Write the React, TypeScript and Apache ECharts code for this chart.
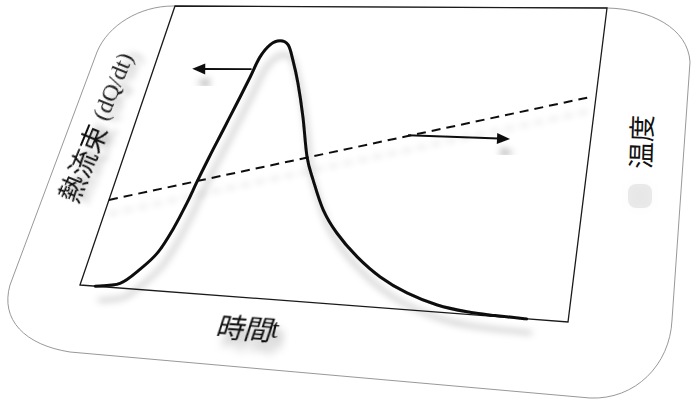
import React, { useEffect, useRef } from "react";
import * as echarts from "echarts";

// ---- data (time in % of run, heat flow / temperature in % of axis) ----
const heatTime = [3.5, 8.8, 12.3, 15.0, 16.8, 18.1, 18.9, 20.0, 21.3, 22.7, 24.0, 24.9, 26.5, 28.6, 30.8, 32.9, 35.5, 38.7, 41.9, 44.5, 48.2, 52.2, 57.5, 63.0, 68.9, 75.2, 81.1, 86.5, 92.4];
const heatFlow = [0, 1.4, 6.3, 11.8, 19.6, 28.2, 35.3, 44.0, 53.2, 63.2, 72.8, 80.2, 85.0, 86.6, 85.1, 79.4, 71.0, 58.9, 45.3, 37.7, 28.3, 21.3, 14.4, 8.9, 4.8, 2.0, 0.7, 0.25, 0];
const tempTime = [0, 99];
const temperature = [27.8, 68.6];
const heatArrowTime = [23.8, 9.5];
const heatArrowValue = [75.7, 75.4];
const tempArrowTime = [62.6, 83.9];
const tempArrowValue = [53.9, 53.8];
const AXIS_MIN = 0;
const AXIS_MAX = 100;

// ---- perspective of the plotting plane (pixel corners) ----
const Q0 = [80, 285]; // bottom-left
const Q1 = [568, 322]; // bottom-right
const Q2 = [607, 8]; // top-right
const Q3 = [175, 6]; // top-left

function makeHomography() {
  const [x0, y0] = Q0, [x1, y1] = Q1, [x2, y2] = Q2, [x3, y3] = Q3;
  const dx1 = x1 - x2, dx2 = x3 - x2, dx3 = x0 - x1 + x2 - x3;
  const dy1 = y1 - y2, dy2 = y3 - y2, dy3 = y0 - y1 + y2 - y3;
  const den = dx1 * dy2 - dx2 * dy1;
  const g = (dx3 * dy2 - dx2 * dy3) / den;
  const h = (dx1 * dy3 - dx3 * dy1) / den;
  const a = x1 - x0 + g * x1, b = x3 - x0 + h * x3, c = x0;
  const d = y1 - y0 + g * y1, e = y3 - y0 + h * y3, f = y0;
  return (u: number, v: number) => {
    const w = g * u + h * v + 1;
    return [(a * u + b * v + c) / w, (d * u + e * v + f) / w];
  };
}
const H = makeHomography();

function project(p: number[], cs: any) {
  const u = (p[0] - cs.x) / cs.width;
  const v = (cs.y + cs.height - p[1]) / cs.height;
  return H(u, v);
}

// Catmull-Rom curve through projected points, as SVG path data
function smoothPath(pts: number[][]) {
  const f = (n: number) => n.toFixed(2);
  let d = `M${f(pts[0][0])} ${f(pts[0][1])}`;
  for (let i = 0; i < pts.length - 1; i++) {
    const p0 = pts[Math.max(0, i - 1)], p1 = pts[i], p2 = pts[i + 1], p3 = pts[Math.min(pts.length - 1, i + 2)];
    const c1 = [p1[0] + (p2[0] - p0[0]) / 6, p1[1] + (p2[1] - p0[1]) / 6];
    const c2 = [p2[0] - (p3[0] - p1[0]) / 6, p2[1] - (p3[1] - p1[1]) / 6];
    d += ` C${f(c1[0])} ${f(c1[1])} ${f(c2[0])} ${f(c2[1])} ${f(p2[0])} ${f(p2[1])}`;
  }
  return d;
}

function arrowShapes(tail: number[], tip: number[], style: any) {
  const dx = tip[0] - tail[0], dy = tip[1] - tail[1];
  const len = Math.sqrt(dx * dx + dy * dy);
  const ux = dx / len, uy = dy / len;
  const nx = -uy, ny = ux;
  const hl = 13, hw = 5.5;
  const bx = tip[0] - ux * hl, by = tip[1] - uy * hl;
  return [
    { type: "line", shape: { x1: tail[0], y1: tail[1], x2: bx + ux * 2, y2: by + uy * 2 }, style: { stroke: "#111", lineWidth: 2, ...style } },
    { type: "polygon", shape: { points: [tip, [bx + nx * hw, by + ny * hw], [bx - nx * hw, by - ny * hw]] }, style: { fill: "#111", ...style } },
  ];
}

const shadow = { shadowColor: "rgba(0,0,0,0.28)", shadowBlur: 7, shadowOffsetX: 4, shadowOffsetY: 14 };
const lightShadow = { shadowColor: "rgba(0,0,0,0.16)", shadowBlur: 6, shadowOffsetX: 0, shadowOffsetY: 14 };

const cardPath =
  "M173 6 L607 8 C650 9 688 28 690 62 L672 320 C670 365 635 400 590 398 L70 352 C25 345 0 320 10 285 L97 52 C108 25 140 6 173 6 Z";

export default function App() {
  const ref = useRef<HTMLDivElement>(null);
  useEffect(() => {
    document.body.style.margin = "0";
    try {
      echarts.graphic.registerShape("card", echarts.graphic.extendPath(cardPath, {}));
    } catch (e) {}
    const chart = echarts.init(ref.current!, null, { renderer: "svg" });
    chart.setOption({
      animation: false,
      backgroundColor: "#ffffff",
      grid: { left: 80, top: 6, width: 527, height: 279 },
      xAxis: { type: "value", min: AXIS_MIN, max: AXIS_MAX, show: false },
      yAxis: [
        { type: "value", min: AXIS_MIN, max: AXIS_MAX, show: false },
        { type: "value", min: AXIS_MIN, max: AXIS_MAX, show: false },
      ],
      graphic: [
        { type: "card", x: 0, y: 0, z: -10, style: { fill: "none", stroke: "#8c8c8c", lineWidth: 0.9 } },
        {
          type: "rect", shape: { x: 628, y: 184, width: 24, height: 24, r: 8 }, z: -5,
          style: { fill: "rgba(0,0,0,0.08)", shadowColor: "rgba(0,0,0,0.22)", shadowBlur: 14 },
        },
        {
          type: "text", x: 96, y: 127, rotation: 1.18,
          style: {
            text: "{a|熱流束}  {b|(dQ/dt)}",
            align: "center", verticalAlign: "middle",
            textShadowColor: "rgba(0,0,0,0.3)", textShadowBlur: 6, textShadowOffsetX: 4, textShadowOffsetY: 8,
            rich: {
              a: { font: "27px 'Noto Sans CJK JP'", fill: "#111" },
              b: { font: "24px 'Liberation Serif', 'DejaVu Serif', serif", fill: "#222" },
            },
          },
        },
        {
          type: "text", x: 640, y: 142, rotation: 1.54,
          style: {
            text: "温度", align: "center", verticalAlign: "middle",
            font: "27px 'Noto Sans CJK JP'", fill: "#111",
          },
        },
        {
          type: "text", x: 247, y: 327, rotation: -0.07,
          style: {
            text: "{a|時間}{b|t}", align: "center", verticalAlign: "middle",
            textShadowColor: "rgba(0,0,0,0.3)", textShadowBlur: 8, textShadowOffsetX: 6, textShadowOffsetY: 10,
            rich: {
              a: { font: "italic 28px 'Noto Sans CJK JP'", fill: "#111" },
              b: { font: "italic 27px 'Liberation Serif', serif", fill: "#111" },
            },
          },
        },
      ],
      series: [
        {
          type: "custom", name: "frame", clip: false, data: [[AXIS_MIN, AXIS_MIN]], z: 1,
          renderItem: (params: any, api: any) => {
            const cs = params.coordSys;
            const corners = [[AXIS_MIN, AXIS_MIN], [AXIS_MAX, AXIS_MIN], [AXIS_MAX, AXIS_MAX], [AXIS_MIN, AXIS_MAX]];
            return {
              type: "polygon",
              shape: { points: corners.map((p) => project(api.coord(p), cs)) },
              style: { fill: "none", stroke: "#1a1a1a", lineWidth: 1.3 },
            };
          },
        },
        {
          type: "custom", name: "温度", clip: false, yAxisIndex: 1, z: 2,
          data: tempTime.map((t, i) => [t, temperature[i]]),
          renderItem: (params: any, api: any) => {
            if (params.dataIndex !== 0) return null;
            const cs = params.coordSys;
            const pts = tempTime.map((t, i) => project(api.coord([t, temperature[i]]), cs));
            return {
              type: "polyline", shape: { points: pts },
              style: { fill: "none", stroke: "#111", lineWidth: 2, lineDash: [9, 6], ...lightShadow },
            };
          },
        },
        {
          type: "custom", name: "熱流束", clip: false, z: 3,
          data: heatTime.map((t, i) => [t, heatFlow[i]]),
          renderItem: (params: any, api: any) => {
            if (params.dataIndex !== 0) return null;
            const cs = params.coordSys;
            const pts = heatTime.map((t, i) => project(api.coord([t, heatFlow[i]]), cs));
            return {
              type: "path", shape: { pathData: smoothPath(pts) },
              style: { fill: "none", stroke: "#0a0a0a", lineWidth: 3, lineJoin: "round", lineCap: "round", ...shadow },
            };
          },
        },
        {
          type: "custom", name: "heatArrow", clip: false, z: 4,
          data: heatArrowTime.map((t, i) => [t, heatArrowValue[i]]),
          renderItem: (params: any, api: any) => {
            if (params.dataIndex !== 0) return null;
            const cs = params.coordSys;
            const tail = project(api.coord([heatArrowTime[0], heatArrowValue[0]]), cs);
            const tip = project(api.coord([heatArrowTime[1], heatArrowValue[1]]), cs);
            return { type: "group", children: arrowShapes(tail, tip, shadow) };
          },
        },
        {
          type: "custom", name: "tempArrow", clip: false, yAxisIndex: 1, z: 4,
          data: tempArrowTime.map((t, i) => [t, tempArrowValue[i]]),
          renderItem: (params: any, api: any) => {
            if (params.dataIndex !== 0) return null;
            const cs = params.coordSys;
            const tail = project(api.coord([tempArrowTime[0], tempArrowValue[0]]), cs);
            const tip = project(api.coord([tempArrowTime[1], tempArrowValue[1]]), cs);
            return { type: "group", children: arrowShapes(tail, tip, shadow) };
          },
        },
      ],
    });
    return () => chart.dispose();
  }, []);
  return <div ref={ref} style={{ width: 700, height: 410 }} />;
}
